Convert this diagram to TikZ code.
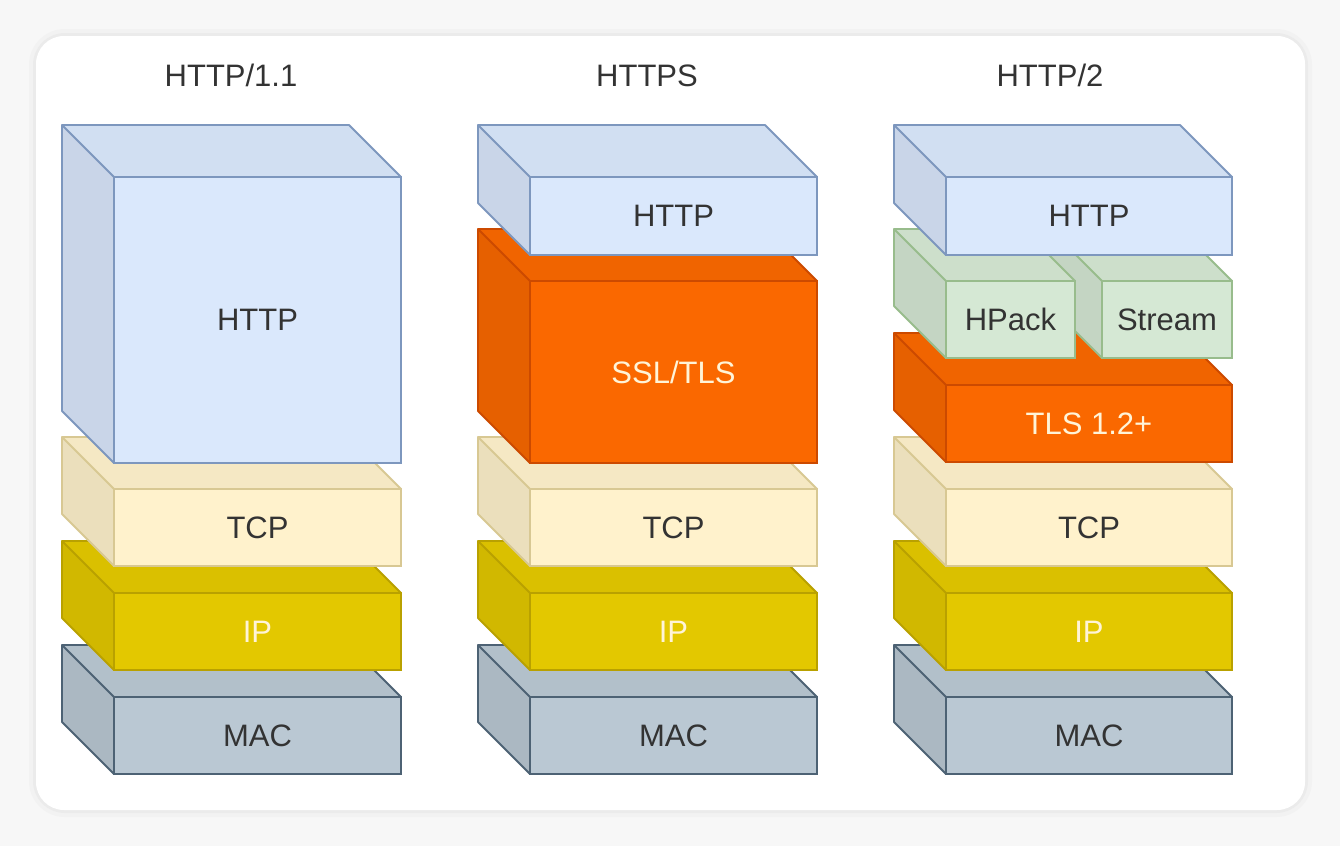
\documentclass[tikz,border=0pt]{standalone}
\usepackage{fontspec}
\setmainfont{Liberation Sans}
\usetikzlibrary{calc}

\definecolor{pagebg}{HTML}{F7F7F7}
\definecolor{ink}{HTML}{333333}
\definecolor{httpfill}{HTML}{DAE8FC} \definecolor{httpline}{HTML}{7D97BE}
\definecolor{tcpfill}{HTML}{FFF2CC}  \definecolor{tcpline}{HTML}{D8C893}
\definecolor{ipfill}{HTML}{E3C800}   \definecolor{ipline}{HTML}{B9A100}
\definecolor{macfill}{HTML}{BAC8D3}  \definecolor{macline}{HTML}{4D6274}
\definecolor{sslfill}{HTML}{FA6800}  \definecolor{sslline}{HTML}{CC4A00}
\definecolor{hpfill}{HTML}{D5E8D4}   \definecolor{hpline}{HTML}{98BC8C}
\definecolor{lighttext}{HTML}{FFF4D8}

\def\dep{52}

\tikzset{
  face/.style={rectangle, inner sep=0pt, outer sep=0pt, line width=1.4pt,
    font=\fontsize{23.25pt}{28pt}\selectfont},
  edge/.style={line width=1.4pt, line join=round},
  title/.style={anchor=base, text=ink, font=\fontsize{23.25pt}{28pt}\selectfont},
}

% A draw.io style cube: left face, top face, labelled front face, outline.
% #1 name, #2 left x, #3 top y, #4 right x, #5 bottom y,
% #6 fill colour, #7 line colour, #8 text colour, #9 label
\newcommand{\layer}[9]{%
  \fill[#6!92!black] (#2,#3) -- (#2+\dep,#3+\dep) -- (#2+\dep,#5) -- (#2,#5-\dep) -- cycle;
  \fill[#6!96!black] (#2,#3) -- (#4-\dep,#3) -- (#4,#3+\dep) -- (#2+\dep,#3+\dep) -- cycle;
  \node[face, fill=#6, draw=#7, text=#8,
        minimum width={(#4-#2-\dep)*0.75pt}, minimum height={(#5-#3-\dep)*0.75pt}]
        (#1) at ({(#2+\dep+#4)/2},{(#3+\dep+#5)/2}) {#9};
  \draw[edge, draw=#7] (#1.north west) -- (#2,#3) -- (#4-\dep,#3) -- (#1.north east)
        (#2,#3) -- (#2,#5-\dep) -- (#1.south west);
}

\begin{document}
\begin{tikzpicture}[x=0.75pt, y=-0.75pt]
  \useasboundingbox (0,0) rectangle (1340,846);
  \fill[pagebg] (0,0) rectangle (1340,846);

  % card with a soft shadow ring
  \fill[black!3, rounded corners=30pt] (24,24) rectangle (1317,822);
  \fill[black!5, rounded corners=27pt] (29,29) rectangle (1312,817);
  \fill[black!8, rounded corners=24pt] (33,33) rectangle (1308,813);
  \fill[white, rounded corners=21pt] (36,36) rectangle (1305,810);

  % HTTP/1.1
  \node[title] (t1) at (231,86) {HTTP/1.1};
  \layer{mac1}{62}{645}{401}{774}{macfill}{macline}{ink}{MAC}
  \layer{ip1}{62}{541}{401}{670}{ipfill}{ipline}{lighttext}{IP}
  \layer{tcp1}{62}{437}{401}{566}{tcpfill}{tcpline}{ink}{TCP}
  \layer{http1}{62}{125}{401}{463}{httpfill}{httpline}{ink}{HTTP}

  % HTTPS
  \node[title] (t2) at (647,86) {HTTPS};
  \layer{mac2}{478}{645}{817}{774}{macfill}{macline}{ink}{MAC}
  \layer{ip2}{478}{541}{817}{670}{ipfill}{ipline}{lighttext}{IP}
  \layer{tcp2}{478}{437}{817}{566}{tcpfill}{tcpline}{ink}{TCP}
  \layer{ssl2}{478}{229}{817}{463}{sslfill}{sslline}{lighttext}{SSL/TLS}
  \layer{http2}{478}{125}{817}{255}{httpfill}{httpline}{ink}{HTTP}

  % HTTP/2
  \node[title] (t3) at (1050,86) {HTTP/2};
  \layer{mac3}{894}{645}{1232}{774}{macfill}{macline}{ink}{MAC}
  \layer{ip3}{894}{541}{1232}{670}{ipfill}{ipline}{lighttext}{IP}
  \layer{tcp3}{894}{437}{1232}{566}{tcpfill}{tcpline}{ink}{TCP}
  \layer{tls3}{894}{333}{1232}{462}{sslfill}{sslline}{lighttext}{TLS 1.2+}
  \layer{stream3}{1050}{229}{1232}{358}{hpfill}{hpline}{ink}{Stream}
  \layer{hpack3}{894}{229}{1075}{358}{hpfill}{hpline}{ink}{HPack}
  \layer{http3}{894}{125}{1232}{255}{httpfill}{httpline}{ink}{HTTP}
\end{tikzpicture}
\end{document}
